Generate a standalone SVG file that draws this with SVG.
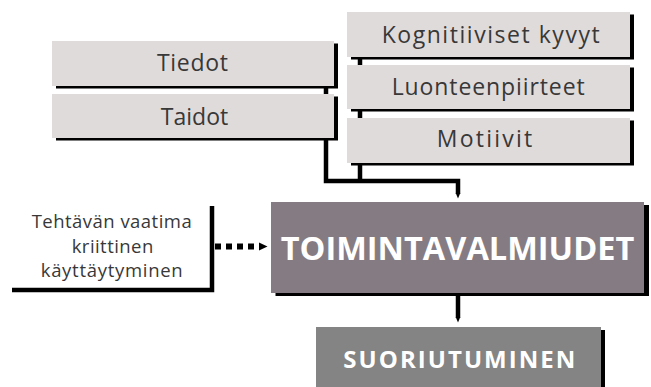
<svg xmlns="http://www.w3.org/2000/svg" width="651" height="387" viewBox="0 0 651 387">
<defs>
<style>
.box{fill:#e0dbdb}
.sh{fill:#000}
.lbl{font-family:"Open Sans","Liberation Sans",sans-serif;font-size:23px;fill:#383838}
.sm{font-family:"Open Sans","Liberation Sans",sans-serif;font-size:18.5px;fill:#383838}
.big{font-family:"Open Sans","Liberation Sans",sans-serif;font-weight:bold;fill:#fff}
.ln{fill:none;stroke:#000;stroke-width:4.5}
</style>
</defs>
<rect width="651" height="387" fill="#fff"/>
<g id="connectors">
<path class="ln" d="M326,86 V181 H458 V194"/>
<path class="ln" d="M360,57 V181"/>
<polygon points="455.7,193 460.3,193 458,198.5" fill="#000"/>
<path class="ln" d="M458,296 V318"/>
<polygon points="455.7,317 460.3,317 458,322.5" fill="#000"/>
<line x1="215" y1="246.5" x2="259" y2="246.5" stroke="#000" stroke-width="6" stroke-dasharray="6 5"/>
<polygon points="259,242.5 267.5,246.5 259,250.5" fill="#000"/>
</g>
<g id="tiedot">
<rect class="sh" x="56" y="43.5" width="282" height="45"/>
<rect class="box" x="52" y="41" width="282" height="45"/>
<text class="lbl" x="157" y="70.7" textLength="71">Tiedot</text>
</g>
<g id="taidot">
<rect class="sh" x="56" y="96.5" width="282" height="44"/>
<rect class="box" x="52" y="94" width="282" height="44"/>
<text class="lbl" x="160.7" y="124.5" textLength="67.6">Taidot</text>
</g>
<g id="kognitiiviset">
<rect class="sh" x="351" y="14.5" width="283" height="45"/>
<rect class="box" x="347" y="12" width="283" height="45"/>
<text class="lbl" x="381.7" y="43.3" textLength="218">Kognitiiviset kyvyt</text>
</g>
<g id="luonteenpiirteet">
<rect class="sh" x="351" y="67.5" width="283" height="44"/>
<rect class="box" x="347" y="65" width="283" height="44"/>
<text class="lbl" x="391.7" y="94.5" textLength="193">Luonteenpiirteet</text>
</g>
<g id="motiivit">
<rect class="sh" x="351" y="120.5" width="283" height="45"/>
<rect class="box" x="347" y="118" width="283" height="45"/>
<text class="lbl" x="436.7" y="147" textLength="95.6">Motiivit</text>
</g>
<g id="kriittinen">
<path class="ln" d="M12,290 H212 V206"/>
<text class="sm" x="31.7" y="228.3" textLength="160">Tehtävän vaatima</text>
<text class="sm" x="71.7" y="253.3" textLength="81.6">kriittinen</text>
<text class="sm" x="40.7" y="277.3" textLength="142">käyttäytyminen</text>
</g>
<g id="toimintavalmiudet">
<rect class="sh" x="275.5" y="205" width="373.5" height="91"/>
<rect x="271" y="202" width="373" height="91" fill="#857b82"/>
<text class="big" x="457.5" y="260" font-size="32.5" text-anchor="middle">TOIMINTAVALMIUDET</text>
</g>
<g id="suoriutuminen">
<rect class="sh" x="320.5" y="330" width="284.5" height="60"/>
<rect x="316" y="327" width="285" height="60" fill="#848484"/>
<text class="big" x="343.3" y="367.7" font-size="24" textLength="232">SUORIUTUMINEN</text>
</g>
</svg>
